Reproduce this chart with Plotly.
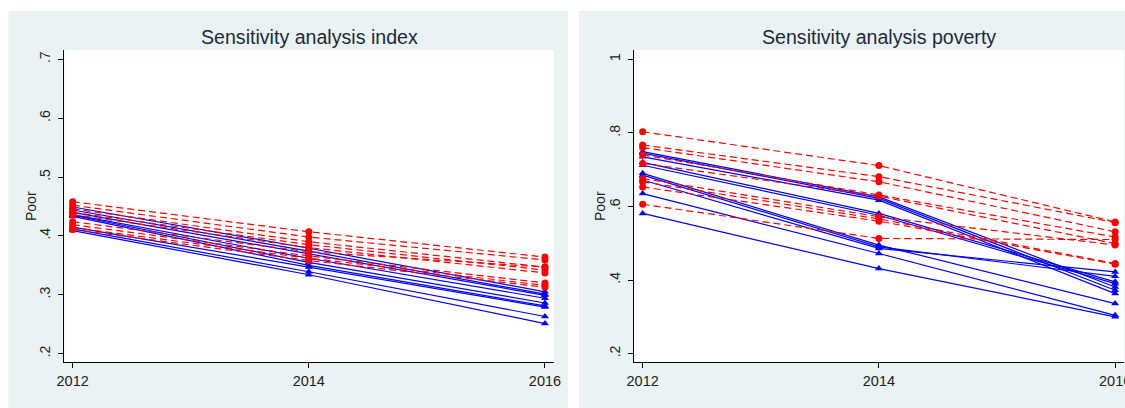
import plotly.graph_objects as go

# Survey waves shown on the x axis
years = [2012, 2014, 2016]

# Share poor by specification: index measure (red = dashed/circle, blue = solid/triangle)
index_red = [
    [0.458, 0.407, 0.364],
    [0.452, 0.398, 0.359],
    [0.446, 0.390, 0.347],
    [0.440, 0.385, 0.342],
    [0.436, 0.380, 0.337],
    [0.424, 0.373, 0.347],
    [0.419, 0.366, 0.320],
    [0.414, 0.362, 0.316],
    [0.411, 0.358, 0.313],
]
index_blue = [
    [0.449, 0.379, 0.305],
    [0.444, 0.374, 0.301],
    [0.440, 0.370, 0.299],
    [0.436, 0.362, 0.294],
    [0.435, 0.355, 0.286],
    [0.433, 0.350, 0.281],
    [0.415, 0.347, 0.279],
    [0.412, 0.339, 0.263],
    [0.409, 0.334, 0.251],
]

# Share poor by specification: poverty measure
poverty_red = [
    [0.803, 0.711, 0.558],
    [0.767, 0.681, 0.556],
    [0.760, 0.667, 0.531],
    [0.740, 0.631, 0.517],
    [0.717, 0.628, 0.499],
    [0.676, 0.572, 0.495],
    [0.667, 0.566, 0.445],
    [0.653, 0.560, 0.443],
    [0.606, 0.513, 0.510],
]
poverty_blue = [
    [0.749, 0.626, 0.381],
    [0.745, 0.622, 0.372],
    [0.735, 0.617, 0.363],
    [0.720, 0.581, 0.395],
    [0.712, 0.576, 0.390],
    [0.690, 0.495, 0.336],
    [0.685, 0.490, 0.410],
    [0.672, 0.486, 0.422],
    [0.635, 0.472, 0.304],
    [0.581, 0.431, 0.300],
]

titles = ["Sensitivity analysis index", "Sensitivity analysis poverty"]
y_title = "Poor"
index_ticks = [0.2, 0.3, 0.4, 0.5, 0.6, 0.7]
index_ticktext = [".2", ".3", ".4", ".5", ".6", ".7"]
poverty_ticks = [0.2, 0.4, 0.6, 0.8, 1.0]
poverty_ticktext = [".2", ".4", ".6", ".8", "1"]

W, H = 1125, 408
FONT = "Liberation Sans, Arial, sans-serif"
RED = "#ff0000"
BLUE = "#0000ff"
PANEL_BG = "#eaf2f3"
TITLE_COLOR = "#1e2a3a"
TEXT_COLOR = "#222222"

fig = go.Figure()


def add_series(rows, color, dashed, xa, ya):
    for row in rows:
        fig.add_trace(go.Scatter(
            x=years, y=row, mode="lines+markers",
            line=dict(color=color, width=1.2, dash="7px,4px" if dashed else "solid"),
            marker=dict(color=color, size=7,
                        symbol="circle" if dashed else "triangle-up",
                        line=dict(width=0)),
            xaxis=xa, yaxis=ya, showlegend=False, hoverinfo="x+y",
        ))


add_series(index_blue, BLUE, False, "x", "y")
add_series(index_red, RED, True, "x", "y")
add_series(poverty_blue, BLUE, False, "x2", "y2")
add_series(poverty_red, RED, True, "x2", "y2")

# pixel geometry of the two plot regions
left_px = (64.4, 553.8)
right_px = (634.4, 1124.0)
top_px, bottom_px = 50.0, 362.3
ydom = [(H - bottom_px) / H, (H - top_px) / H]

x_common = dict(
    range=[2011.93, 2016.075], tickvals=years, ticktext=[str(y) for y in years],
    showgrid=False, zeroline=False, showline=True, linecolor="black", linewidth=1,
    ticks="outside", ticklen=5, tickcolor="black", tickwidth=1,
    tickfont=dict(family=FONT, size=14.5, color=TEXT_COLOR), mirror=False,
    automargin=False, ticklabeloverflow="allow",
)
y_common = dict(
    showgrid=False, zeroline=False, showline=True, linecolor="black", linewidth=1,
    ticks="outside", ticklen=5, tickcolor="black", tickwidth=1, tickangle=-90,
    ticklabelstandoff=3, automargin=False,
    tickfont=dict(family=FONT, size=14, color=TEXT_COLOR), mirror=False,
)


def rect(x0, x1, y0, y1, color):
    return dict(type="rect", xref="paper", yref="paper", layer="below",
                x0=x0 / W, x1=x1 / W, y0=1 - y1 / H, y1=1 - y0 / H,
                fillcolor=color, line=dict(width=0))


def label(text, x_px, y_px, size, color, angle=0):
    return dict(text=text, xref="paper", yref="paper",
                x=x_px / W, y=1 - y_px / H, xanchor="center", yanchor="middle",
                textangle=angle, showarrow=False,
                font=dict(family=FONT, size=size, color=color))


fig.update_layout(
    width=W, height=H,
    margin=dict(l=0, r=0, t=0, b=0, autoexpand=False),
    paper_bgcolor="white", plot_bgcolor="white",
    xaxis=dict(domain=[left_px[0] / W, left_px[1] / W], anchor="y", **x_common),
    yaxis=dict(domain=ydom, anchor="x", range=[0.1852, 0.7158],
               tickvals=index_ticks, ticktext=index_ticktext, **y_common),
    xaxis2=dict(domain=[right_px[0] / W, right_px[1] / W], anchor="y2", **x_common),
    yaxis2=dict(domain=ydom, anchor="x2", range=[0.1763, 1.0253],
                tickvals=poverty_ticks, ticktext=poverty_ticktext, **y_common),
    shapes=[
        # graph regions
        rect(8.5, 568, 11, H, PANEL_BG),
        rect(579, W, 11, H, PANEL_BG),
        # plot regions
        rect(left_px[0], left_px[1], top_px, bottom_px, "white"),
        rect(right_px[0], right_px[1], top_px, bottom_px, "white"),
    ],
    annotations=[
        label(titles[0], sum(left_px) / 2, 37, 19.6, TITLE_COLOR),
        label(titles[1], sum(right_px) / 2, 37, 19.6, TITLE_COLOR),
        label(y_title, 31, 206, 14, TEXT_COLOR, angle=-90),
        label(y_title, 600, 206, 14, TEXT_COLOR, angle=-90),
    ],
)

fig.write_html("out.html")
